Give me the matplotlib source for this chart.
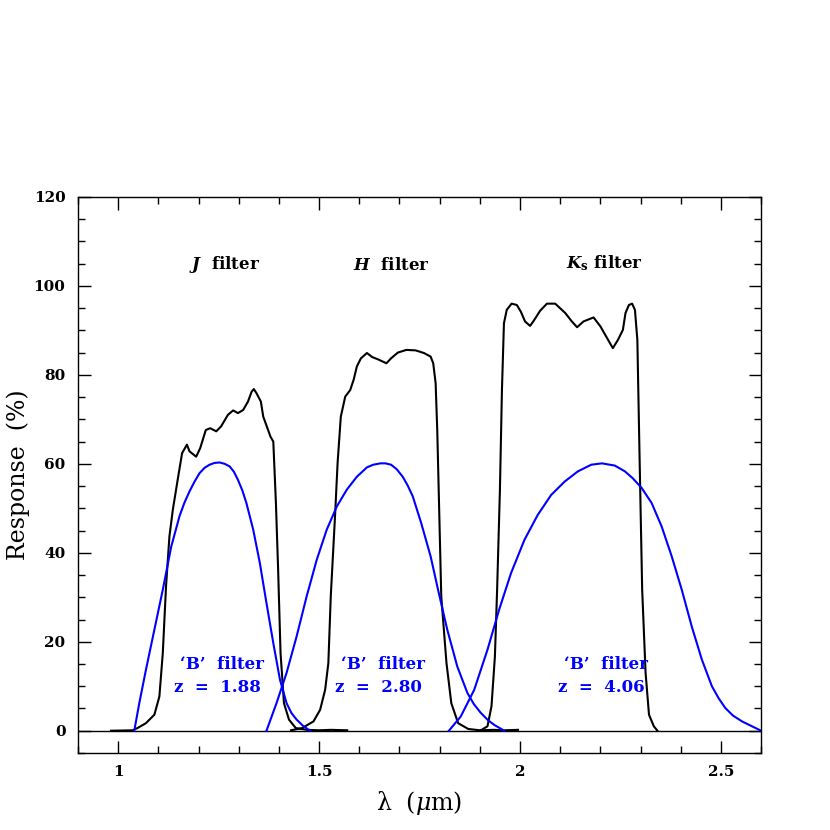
import numpy as np
import matplotlib
matplotlib.use('Agg')
import matplotlib.pyplot as plt
from matplotlib.ticker import MultipleLocator

# --- Daten ---
# J-Filter (schwarz)
j_wl = [0.982, 1.036, 1.048, 1.069, 1.090, 1.1025, 1.111, 1.119, 1.1275, 1.136, 1.148, 1.159,
        1.171, 1.1775, 1.194, 1.204, 1.218, 1.229, 1.244, 1.256, 1.273, 1.286, 1.298, 1.311,
        1.323, 1.332, 1.3375, 1.344, 1.355, 1.361, 1.367, 1.373, 1.379, 1.386, 1.3925, 1.398,
        1.404, 1.4125, 1.425, 1.442, 1.47, 1.50, 1.53, 1.57]
j_resp = [0.0, 0.1, 0.6, 1.7, 3.6, 7.7, 17.5, 32.4, 43.7, 49.7, 56.4, 62.4,
          64.3, 62.8, 61.6, 63.5, 67.6, 68.0, 67.3, 68.4, 71.0, 72.0, 71.4, 72.1,
          74.0, 76.2, 76.8, 75.9, 74.0, 70.6, 69.1, 67.6, 66.1, 65.0, 51.2, 36.2,
          17.5, 6.2, 2.5, 0.6, 0.2, 0.1, 0.2, 0.1]

# H-Filter (schwarz)
h_wl = [1.43, 1.458, 1.486, 1.5025, 1.515, 1.523, 1.529, 1.540, 1.546, 1.554, 1.565, 1.5775,
        1.586, 1.594, 1.604, 1.619, 1.632, 1.646, 1.6675, 1.679, 1.696, 1.717, 1.740, 1.761,
        1.7775, 1.784, 1.790, 1.794, 1.798, 1.804, 1.817, 1.829, 1.846, 1.871, 1.90, 1.935,
        1.96, 1.995]
h_resp = [0.1, 0.6, 2.1, 4.7, 9.2, 15.2, 30.2, 48.9, 60.2, 70.6, 75.1, 76.6,
          78.9, 81.9, 83.7, 84.9, 84.0, 83.5, 82.6, 83.7, 85.0, 85.6, 85.5, 84.9,
          84.1, 82.6, 78.1, 67.6, 52.7, 30.2, 15.2, 6.2, 1.7, 0.4, 0.1, 0.2,
          0.1, 0.2]

# Ks-Filter (schwarz)
k_wl = [1.9025, 1.919, 1.929, 1.9375, 1.943, 1.950, 1.955, 1.960, 1.967, 1.979, 1.992, 2.002,
        2.0125, 2.025, 2.033, 2.050, 2.067, 2.0875, 2.1125, 2.129, 2.142, 2.158, 2.183, 2.200,
        2.217, 2.231, 2.244, 2.256, 2.2625, 2.271, 2.279, 2.286, 2.292, 2.2975, 2.304, 2.3125,
        2.321, 2.333, 2.342]
k_resp = [0.1, 1.0, 5.5, 16.7, 31.7, 54.2, 76.6, 91.6, 94.6, 96.0, 95.7, 94.2,
          92.0, 91.0, 92.0, 94.4, 96.0, 96.0, 93.9, 92.0, 90.7, 92.0, 92.9, 90.9,
          88.2, 86.0, 87.9, 90.1, 93.9, 95.7, 96.0, 94.6, 87.9, 61.6, 31.7, 13.0,
          3.6, 1.0, 0.0]

# 'B'-Filter rotverschoben (blau)
b1_wl = [1.040, 1.0525, 1.069, 1.090, 1.111, 1.132, 1.1525, 1.165, 1.1775, 1.19, 1.2025, 1.215,
         1.2275, 1.24, 1.2525, 1.265, 1.2775, 1.288, 1.298, 1.309, 1.319, 1.336, 1.3525, 1.369,
         1.386, 1.4025, 1.419, 1.431, 1.444, 1.46, 1.4775]
b1_resp = [0.0, 6.2, 13.7, 22.7, 31.7, 41.4, 48.2, 51.3, 53.8, 56.0, 57.9, 59.1,
           59.8, 60.2, 60.3, 60.0, 59.4, 58.2, 56.4, 54.0, 51.2, 45.2, 37.7, 28.7,
           19.7, 11.5, 6.2, 4.0, 2.5, 1.1, 0.0]

b2_wl = [1.369, 1.394, 1.419, 1.444, 1.469, 1.494, 1.519, 1.544, 1.569, 1.594, 1.619, 1.635,
         1.6525, 1.665, 1.679, 1.693, 1.708, 1.72, 1.733, 1.754, 1.7775, 1.798, 1.819, 1.844,
         1.869, 1.885, 1.9025, 1.92, 1.936, 1.961]
b2_resp = [0.0, 6.2, 13.0, 21.2, 30.2, 38.4, 45.2, 50.4, 54.2, 57.1, 59.2, 59.8,
           60.1, 60.1, 59.8, 58.8, 57.1, 55.2, 52.7, 46.7, 39.2, 30.9, 22.7, 14.4,
           8.5, 6.0, 4.0, 2.4, 1.3, 0.0]

b3_wl = [1.823, 1.8525, 1.886, 1.919, 1.948, 1.9775, 2.011, 2.044, 2.0775, 2.111, 2.144, 2.1775,
         2.204, 2.236, 2.261, 2.28, 2.3025, 2.3275, 2.3525, 2.3775, 2.4025, 2.4275, 2.4525,
         2.4775, 2.495, 2.511, 2.53, 2.5525, 2.575, 2.6]
b3_resp = [0.0, 3.2, 9.2, 18.2, 27.2, 35.4, 42.9, 48.5, 53.0, 56.0, 58.3, 59.8,
           60.1, 59.6, 58.3, 56.8, 54.6, 51.2, 45.9, 39.2, 31.7, 23.4, 16.0,
           10.0, 7.2, 5.1, 3.4, 2.1, 1.1, 0.0]

filter_names = [r'$\mathbfit{J}$  filter', r'$\mathbfit{H}$  filter', r'$\mathbfit{K}_{\mathbf{s}}$ filter']
filter_pos = [(1.265, 104.7), (1.68, 104.5), (2.21, 105.2)]
redshifts = ['1.88', '2.80', '4.06']
b_pos = [(1.258, 1.247), (1.660, 1.648), (2.215, 2.203)]

plt.rcParams['mathtext.fontset'] = 'dejavuserif'

fig = plt.figure(figsize=(8.3, 8.3), dpi=100)
ax = fig.add_axes([0.094, 0.0928, 0.823, 0.670])

ax.axhline(0, color='black', lw=1.0)
for wl, r in [(j_wl, j_resp), (h_wl, h_resp), (k_wl, k_resp)]:
    ax.plot(wl, r, color='black', lw=1.5)
for wl, r in [(b1_wl, b1_resp), (b2_wl, b2_resp), (b3_wl, b3_resp)]:
    ax.plot(wl, r, color='#0000ff', lw=1.5)

for name, (x, y) in zip(filter_names, filter_pos):
    ax.text(x, y, name, ha='center', va='center', fontsize=12, fontweight='bold',
            family='DejaVu Serif')
for z, (x1, x2) in zip(redshifts, b_pos):
    ax.text(x1, 15.0, '\u2018B\u2019  filter', ha='center', va='center', fontsize=12,
            fontweight='bold', color='#0000ff', family='DejaVu Serif')
    ax.text(x2, 9.7, 'z  =  ' + z, ha='center', va='center', fontsize=12,
            fontweight='bold', color='#0000ff', family='DejaVu Serif')

ax.set_xlim(0.9, 2.6)
ax.set_ylim(-5, 120)
ax.xaxis.set_minor_locator(MultipleLocator(0.1))
ax.yaxis.set_major_locator(MultipleLocator(20))
ax.yaxis.set_minor_locator(MultipleLocator(5))
ax.set_xticks([1, 1.5, 2, 2.5])
ax.set_xticklabels(['1', '1.5', '2', '2.5'])
ax.tick_params(which='both', direction='in', top=True, right=True, width=1.0,
               labelsize=11)
ax.tick_params(which='major', length=9)
ax.tick_params(which='minor', length=5)
ax.tick_params(axis='x', pad=9)
ax.tick_params(axis='y', pad=9)
for lab in ax.get_xticklabels() + ax.get_yticklabels():
    lab.set_fontweight('bold')
    lab.set_family('DejaVu Serif')
for s in ax.spines.values():
    s.set_linewidth(1.0)

ax.set_xlabel(r'$\mathrm{\lambda}\ \ (\mu\mathrm{m})$', fontsize=17, family='DejaVu Serif')
ax.set_ylabel('Response  (%)', fontsize=17, family='DejaVu Serif')
ax.xaxis.set_label_coords(0.5, -0.065)
ax.yaxis.set_label_coords(-0.07, 0.5)

fig.savefig('out.png', dpi=100)
